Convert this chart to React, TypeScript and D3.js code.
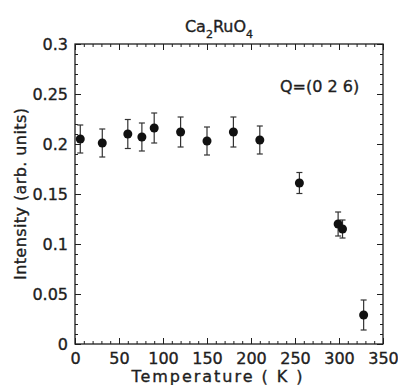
import React, { useEffect, useRef } from 'react';
import * as d3 from 'd3';

// Ca2RuO4, Q=(0 2 6) intensity vs temperature
const temperature = [6, 31, 60, 76, 90, 120, 150, 180, 210, 255, 299, 304, 328];
const intensity = [0.205, 0.201, 0.21, 0.207, 0.216, 0.212, 0.203, 0.212, 0.204, 0.161, 0.12, 0.115, 0.029];
const errorBar = [0.014, 0.014, 0.0145, 0.014, 0.015, 0.015, 0.014, 0.015, 0.014, 0.0105, 0.012, 0.009, 0.015];
const xTickValues = [0, 50, 100, 150, 200, 250, 300, 350];
const yTickValues = [0, 0.05, 0.1, 0.15, 0.2, 0.25, 0.3];

const width = 398;
const height = 385;
const margin = { top: 44, right: 15, bottom: 41, left: 75 };
const font = 'DejaVu Sans, sans-serif';
const ink = '#1e1e1e';

const App = () => {
  const svgRef = useRef(null);

  useEffect(() => {
    const svg = d3.select(svgRef.current);
    svg.selectAll('*').remove();

    const chartWidth = width - margin.left - margin.right;
    const chartHeight = height - margin.top - margin.bottom;

    const xScale = d3.scaleLinear().domain([0, 350]).range([0, chartWidth]);
    const yScale = d3.scaleLinear().domain([0, 0.3]).range([chartHeight, 0]);

    const chart = svg.append('g')
      .attr('transform', `translate(${margin.left},${margin.top})`);

    const minorX = d3.range(0, 351, 10);
    const minorY = d3.range(0, 31, 1).map(d => d / 100);

    // scanned-looking text is a bit heavier than plain DejaVu
    const styleText = sel => sel
      .attr('font-family', font)
      .attr('font-size', 16)
      .attr('fill', ink)
      .attr('stroke', ink)
      .attr('stroke-width', 0.35);

    // inward ticks on all four sides, labels only bottom/left
    const addAxis = (axis, tx, ty, labels) => {
      const a = chart.append('g')
        .attr('transform', `translate(${tx},${ty})`)
        .call(axis);
      a.select('.domain').remove();
      a.selectAll('line').attr('stroke', ink).attr('stroke-width', 1);
      if (!labels) a.selectAll('text').remove();
      else styleText(a.selectAll('text'));
    };

    addAxis(d3.axisBottom(xScale).tickValues(minorX).tickSize(-3), 0, chartHeight, false);
    addAxis(d3.axisTop(xScale).tickValues(minorX).tickSize(-3), 0, 0, false);
    addAxis(d3.axisLeft(yScale).tickValues(minorY).tickSize(-3), 0, 0, false);
    addAxis(d3.axisRight(yScale).tickValues(minorY).tickSize(-3), chartWidth, 0, false);

    addAxis(d3.axisBottom(xScale).tickValues(xTickValues).tickSize(-6).tickPadding(9)
      .tickFormat(d3.format('d')), 0, chartHeight, true);
    addAxis(d3.axisTop(xScale).tickValues(xTickValues).tickSize(-6), 0, 0, false);
    addAxis(d3.axisLeft(yScale).tickValues(yTickValues).tickSize(-6).tickPadding(7)
      .tickFormat(d => String(+d.toFixed(2))), 0, 0, true);
    addAxis(d3.axisRight(yScale).tickValues(yTickValues).tickSize(-6), chartWidth, 0, false);

    // frame
    chart.append('rect')
      .attr('width', chartWidth)
      .attr('height', chartHeight)
      .attr('fill', 'none')
      .attr('stroke', ink)
      .attr('stroke-width', 1.3);

    const data = temperature.map((t, i) => ({ t, v: intensity[i], e: errorBar[i] }));

    // error bars
    const bars = chart.append('g').attr('stroke', '#333').attr('stroke-width', 1.2);
    bars.selectAll('.eb')
      .data(data)
      .join('line')
      .attr('x1', d => xScale(d.t))
      .attr('x2', d => xScale(d.t))
      .attr('y1', d => yScale(d.v - d.e))
      .attr('y2', d => yScale(d.v + d.e));
    ['lo', 'hi'].forEach(side => {
      bars.selectAll(`.cap-${side}`)
        .data(data)
        .join('line')
        .attr('x1', d => xScale(d.t) - 3)
        .attr('x2', d => xScale(d.t) + 3)
        .attr('y1', d => yScale(side === 'lo' ? d.v - d.e : d.v + d.e))
        .attr('y2', d => yScale(side === 'lo' ? d.v - d.e : d.v + d.e));
    });

    // points
    chart.append('g')
      .selectAll('circle')
      .data(data)
      .join('circle')
      .attr('cx', d => xScale(d.t))
      .attr('cy', d => yScale(d.v))
      .attr('r', 4.5)
      .attr('fill', '#111');

    // title
    const title = styleText(svg.append('text'))
      .attr('x', 219)
      .attr('y', 32)
      .attr('text-anchor', 'middle');
    title.append('tspan').text('Ca');
    title.append('tspan').attr('dy', 6).attr('font-size', 11).text('2');
    title.append('tspan').attr('dy', -6).text('RuO');
    title.append('tspan').attr('dy', 6).attr('font-size', 11).text('4');

    styleText(svg.append('text'))
      .attr('x', 280)
      .attr('y', 92)
      .text('Q=(0 2 6)');

    // axis labels
    styleText(svg.append('text'))
      .attr('x', 217)
      .attr('y', 382)
      .attr('text-anchor', 'middle')
      .attr('textLength', 171)
      .attr('lengthAdjust', 'spacing')
      .text('Temperature ( K )');

    styleText(svg.append('text'))
      .attr('transform', 'translate(26,194) rotate(-90)')
      .attr('text-anchor', 'middle')
      .attr('textLength', 172)
      .attr('lengthAdjust', 'spacing')
      .text('Intensity (arb. units)');
  }, []);

  return (
    <svg
      ref={svgRef}
      width={width}
      height={height}
      style={{ position: 'absolute', left: 0, top: 0, background: '#fff' }}
    />
  );
};

export default App;
